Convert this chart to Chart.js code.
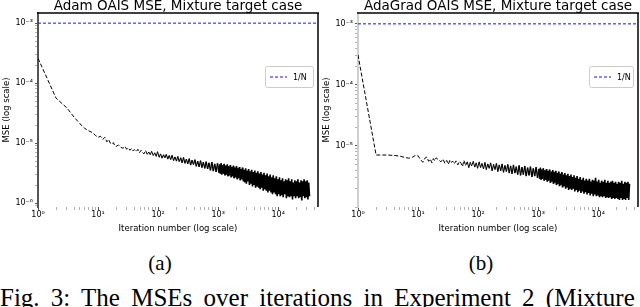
<!DOCTYPE html>
<html>
<head>
<meta charset="utf-8">
<script src="https://cdn.jsdelivr.net/npm/chart.js@4/dist/chart.umd.min.js"></script>
<style>
  html, body { margin: 0; padding: 0; background: #fff; }
  body { width: 640px; height: 307px; overflow: hidden; position: relative; }
  canvas { position: absolute; top: 0; }
  .sub { position: absolute; top: 252px; font-family: "Liberation Serif", "DejaVu Serif", serif; font-size: 21px; line-height: 22px; color: #000; width: 60px; text-align: center; }
  .cap { position: absolute; left: 0px; top: 285px; font-family: "Liberation Serif", "DejaVu Serif", serif; font-size: 25px; line-height: 25px; color: #000; white-space: nowrap; word-spacing: 5px; }
</style>
</head>
<body>
<canvas id="cA" width="320" height="240" style="left:0"></canvas>
<canvas id="cB" width="320" height="240" style="left:320px"></canvas>
<div class="sub" style="left:130px">(a)</div>
<div class="sub" style="left:451px">(b)</div>
<div class="cap">Fig. 3: The MSEs over iterations in Experiment 2 (Mixture target case).</div>
<script>
// ---------------- data ----------------
const iterations = [
  1,2,3,4,5,6,7,8,9,10,
  11,12,13,14,15,16,17,18,19,20,
  22,24,26,28,30,32,34,36,38,40,
  43,46,49,52,55,58,62,66,70,74,
  78,83,88,93,98,104,110,116,123,130,
  137,145,153,162,171,181,191,202,213,225,
  238,251,265,280,296,312,330,348,367,388,
  410,432,456,482,509,537,567,599,632,667,
  705,744,786,830,876,925,977,1030,1060,1090,
  1120,1150,1180,1220,1260,1300,1340,1380,1420,1460,
  1500,1550,1600,1650,1700,1750,1800,1850,1900,1960,
  2020,2080,2140,2200,2270,2340,2410,2480,2550,2630,
  2710,2790,2870,2950,3040,3130,3220,3320,3420,3520,
  3620,3730,3840,3960,4080,4200,4320,4450,4580,4720,
  4860,5010,5160,5310,5470,5630,5800,5980,6160,6340,
  6530,6730,6930,7140,7350,7570,7800,8030,8270,8520,
  8780,9040,9310,9590,9880,10200,10500,10800,11100,11400,
  11800,12100,12500,12900,13300,13700,14100,14500,14900,15400,
  15800,16300,16800,17300,17800,18400,18900,19500,20100,20700,
  21300,21900,22600,23300,24000,24700,25400,26200,27000,27800,
  28600,29500,30400,31300,32200,33200
];

const adamMse = [
  2.6e-4,5.6e-5,3.9e-5,2.7e-5,2.1e-5,1.76e-5,1.6e-5,1.5e-5,1.35e-5,1.25e-5,
  1.3e-5,1.15e-5,1.25e-5,1.05e-5,1.15e-5,1.0e-5,9.6e-6,1.02e-5,9.0e-6,8.8e-6,
  9.3e-6,8.5e-6,8.2e-6,8.8e-6,7.9e-6,8.3e-6,7.6e-6,8.1e-6,7.4e-6,7.8e-6,
  7.2e-6,7.9e-6,6.9e-6,7.6e-6,7.0e-6,6.6e-6,7.5e-6,6.5e-6,7.1e-6,6.4e-6,
  7.3e-6,6.2e-6,6.9e-6,6.0e-6,7.2e-6,5.8e-6,6.6e-6,5.6e-6,6.4e-6,5.7e-6,
  6.5e-6,5.4e-6,6.2e-6,5.3e-6,6.3e-6,5.1e-6,5.9e-6,5.0e-6,6.0e-6,4.9e-6,
  5.7e-6,4.7e-6,5.8e-6,4.6e-6,5.4e-6,4.5e-6,5.5e-6,4.3e-6,5.2e-6,4.4e-6,
  5.3e-6,4.1e-6,5.0e-6,4.0e-6,5.1e-6,3.9e-6,4.8e-6,3.8e-6,4.9e-6,3.7e-6,
  4.7e-6,3.5e-6,4.8e-6,3.4e-6,4.5e-6,3.3e-6,4.6e-6,3.2e-6,4.4e-6,3.1e-6,
  4.6e-6,3.0e-6,4.3e-6,3.1e-6,4.5e-6,2.9e-6,4.2e-6,3.0e-6,4.4e-6,2.8e-6,
  4.1e-6,2.9e-6,4.3e-6,2.7e-6,4.0e-6,2.8e-6,4.2e-6,2.6e-6,3.9e-6,2.7e-6,
  4.1e-6,2.5e-6,3.8e-6,2.6e-6,4.0e-6,2.4e-6,3.7e-6,2.5e-6,3.9e-6,2.3e-6,
  3.6e-6,2.2e-6,3.8e-6,2.1e-6,3.5e-6,2.3e-6,3.7e-6,2.0e-6,3.4e-6,2.1e-6,
  3.6e-6,1.9e-6,3.3e-6,2.0e-6,3.5e-6,1.8e-6,3.2e-6,1.9e-6,3.4e-6,1.8e-6,
  3.1e-6,1.7e-6,3.3e-6,1.8e-6,3.0e-6,1.6e-6,3.2e-6,1.7e-6,2.9e-6,1.6e-6,
  3.1e-6,1.5e-6,2.8e-6,1.6e-6,3.0e-6,1.5e-6,2.7e-6,1.4e-6,2.9e-6,1.5e-6,
  2.6e-6,1.4e-6,2.8e-6,1.3e-6,2.5e-6,1.4e-6,2.7e-6,1.3e-6,2.4e-6,1.35e-6,
  2.6e-6,1.25e-6,2.3e-6,1.4e-6,2.5e-6,1.2e-6,2.4e-6,1.3e-6,2.6e-6,1.25e-6,
  2.3e-6,1.3e-6,2.5e-6,1.15e-6,2.2e-6,1.3e-6,2.4e-6,1.2e-6,2.3e-6,1.3e-6,
  2.5e-6,1.2e-6,2.2e-6,1.25e-6,2.4e-6,1.1e-6,2.3e-6,1.3e-6,2.5e-6,1.2e-6,
  2.3e-6,1.25e-6,2.4e-6,1.15e-6,2.2e-6,1.3e-6
];

const adagradMse = [
  3.1e-4,7.1e-6,7.1e-6,7.0e-6,6.8e-6,6.5e-6,6.3e-6,6.5e-6,7.0e-6,6.9e-6,
  6.0e-6,5.4e-6,6.3e-6,6.6e-6,5.6e-6,6.1e-6,5.3e-6,6.2e-6,5.7e-6,6.4e-6,
  5.9e-6,5.5e-6,6.1e-6,5.2e-6,5.8e-6,5.0e-6,5.9e-6,5.4e-6,5.6e-6,5.1e-6,
  5.7e-6,4.9e-6,5.6e-6,5.2e-6,4.6e-6,5.8e-6,4.8e-6,5.5e-6,4.4e-6,5.4e-6,
  4.7e-6,5.6e-6,4.5e-6,5.3e-6,4.3e-6,5.5e-6,4.4e-6,5.2e-6,4.2e-6,5.4e-6,
  4.1e-6,5.1e-6,4.3e-6,5.3e-6,3.9e-6,5.0e-6,4.1e-6,5.2e-6,3.8e-6,4.9e-6,
  3.9e-6,5.1e-6,3.7e-6,4.8e-6,3.8e-6,5.0e-6,3.6e-6,4.7e-6,3.5e-6,4.9e-6,
  3.6e-6,4.6e-6,3.4e-6,4.8e-6,3.3e-6,4.5e-6,3.4e-6,4.7e-6,3.2e-6,4.4e-6,
  3.3e-6,4.6e-6,3.1e-6,4.3e-6,3.2e-6,4.5e-6,3.0e-6,4.2e-6,2.9e-6,4.4e-6,
  2.8e-6,4.1e-6,2.9e-6,4.3e-6,2.7e-6,4.0e-6,2.8e-6,4.2e-6,2.6e-6,3.9e-6,
  2.7e-6,4.1e-6,2.5e-6,3.8e-6,2.6e-6,4.0e-6,2.4e-6,3.7e-6,2.5e-6,3.9e-6,
  2.3e-6,3.6e-6,2.4e-6,3.8e-6,2.2e-6,3.5e-6,2.3e-6,3.7e-6,2.1e-6,3.4e-6,
  2.2e-6,3.6e-6,2.0e-6,3.3e-6,2.1e-6,3.5e-6,1.9e-6,3.2e-6,2.0e-6,3.4e-6,
  1.9e-6,3.1e-6,2.0e-6,3.3e-6,1.8e-6,3.0e-6,1.9e-6,3.2e-6,1.75e-6,2.9e-6,
  1.85e-6,3.1e-6,1.7e-6,2.8e-6,1.8e-6,3.0e-6,1.65e-6,2.7e-6,1.75e-6,2.9e-6,
  1.6e-6,2.7e-6,1.7e-6,2.9e-6,1.55e-6,2.6e-6,1.65e-6,2.8e-6,1.5e-6,2.7e-6,
  1.6e-6,3.0e-6,1.5e-6,2.6e-6,1.55e-6,2.8e-6,1.45e-6,2.5e-6,1.5e-6,2.7e-6,
  1.45e-6,2.6e-6,1.5e-6,2.8e-6,1.4e-6,2.5e-6,1.45e-6,2.7e-6,1.4e-6,2.5e-6,
  1.45e-6,2.6e-6,1.35e-6,2.7e-6,1.4e-6,2.5e-6,1.35e-6,2.6e-6,1.4e-6,2.4e-6,
  1.35e-6,2.6e-6,1.3e-6,2.5e-6,1.4e-6,2.7e-6,1.3e-6,2.4e-6,1.35e-6,2.6e-6,
  1.3e-6,2.5e-6,1.4e-6,2.6e-6,1.3e-6,2.4e-6
];

const oneOverN = 1e-3;            // 1/N reference level (N = 1000)
const xRange = [1, 46000];
const yRangeA = [0.86e-6, 1.47e-3];
const yRangeB = [1.0e-6, 1.5e-3];

const xDecades = [1, 10, 100, 1000, 10000];
const xTickLabels = ['10⁰', '10¹', '10²', '10³', '10⁴'];
const yDecadesA = [1e-6, 1e-5, 1e-4, 1e-3];
const yTickLabelsA = ['10⁻⁶', '10⁻⁵', '10⁻⁴', '10⁻³'];
const yDecadesB = [1e-5, 1e-4, 1e-3];
const yTickLabelsB = ['10⁻⁵', '10⁻⁴', '10⁻³'];
const minorMultiples = [2, 3, 4, 5, 6, 7, 8, 9];

const titles = ['Adam OAIS MSE, Mixture target case', 'AdaGrad OAIS MSE, Mixture target case'];
const xTitle = 'Iteration number (log scale)';
const yTitle = 'MSE (log scale)';

// ---------------- helpers ----------------
const FONT = 'DejaVu Sans';

function tickList(decades, lo, hi) {
  const out = [];
  const all = [decades[0] / 10, ...decades];
  for (const d of all) {
    if (d >= lo && d <= hi) out.push({ value: d });
    for (const k of minorMultiples) {
      const v = d * k;
      if (v >= lo && v <= hi) out.push({ value: v });
    }
  }
  return out;
}
function isMajor(v, majors) {
  return majors.some(m => Math.abs(v / m - 1) < 1e-9);
}
function labelFor(v, majors, labels) {
  const i = majors.findIndex(m => Math.abs(v / m - 1) < 1e-9);
  return i >= 0 ? labels[i] : '';
}

const framePlugin = {
  id: 'frame',
  afterDatasetsDraw(chart, args, opts) {
    const { ctx, chartArea: a } = chart;
    ctx.save();
    ctx.strokeStyle = opts.topColor;
    ctx.lineWidth = opts.topWidth;
    ctx.beginPath();
    ctx.moveTo(a.left - 1, a.top);
    ctx.lineTo(a.right + 1, a.top);
    ctx.stroke();
    ctx.strokeStyle = opts.rightColor;
    ctx.lineWidth = opts.rightWidth;
    ctx.beginPath();
    ctx.moveTo(a.right, a.top);
    ctx.lineTo(a.right, a.bottom);
    ctx.stroke();
    ctx.restore();
  }
};

const boxLegendPlugin = {
  id: 'boxLegend',
  afterDraw(chart, args, opts) {
    const { ctx, chartArea: a } = chart;
    const ds = chart.data.datasets[opts.datasetIndex];
    const w = opts.width, h = opts.height;
    const x = a.right - opts.offsetRight - w, y = opts.top;
    ctx.save();
    ctx.fillStyle = 'rgba(255,255,255,0.9)';
    ctx.strokeStyle = '#cccccc';
    ctx.lineWidth = 1;
    ctx.beginPath();
    ctx.roundRect(x + 0.5, y + 0.5, w, h, 2);
    ctx.fill();
    ctx.stroke();
    ctx.strokeStyle = ds.borderColor;
    ctx.lineWidth = ds.borderWidth;
    ctx.setLineDash(ds.borderDash || []);
    ctx.beginPath();
    ctx.moveTo(x + 5, y + h / 2 + 0.5);
    ctx.lineTo(x + 22, y + h / 2 + 0.5);
    ctx.stroke();
    ctx.setLineDash([]);
    ctx.fillStyle = '#000';
    ctx.font = '8px "' + FONT + '"';
    ctx.textBaseline = 'middle';
    ctx.fillText(ds.label, x + 28, y + h / 2 + 1);
    ctx.restore();
  }
};

// segments in the noisy tail (dense iterations) render solid and gradually heavier
const mseSegment = {
  borderDash: c => (c.p0.parsed.x >= 60 ? [] : [4, 2]),
  borderWidth: c => {
    const e = Math.log10(c.p0.parsed.x);
    return 1 + 0.6 * Math.min(1, Math.max(0, (e - 2) / 1.4));
  }
};

function makeChart(canvasId, title, mse, yRange, yDecades, yLabels, leftSpineColor, legendW) {
  const points = iterations.map((it, i) => ({ x: it, y: mse[i] }));
  const nLine = [{ x: xRange[0], y: oneOverN }, { x: xRange[1], y: oneOverN }];
  return new Chart(document.getElementById(canvasId), {
    type: 'line',
    data: {
      datasets: [
        { label: 'MSE', data: points, borderColor: '#000', borderWidth: 1, borderDash: [4, 2],
          segment: mseSegment, pointRadius: 0, tension: 0, fill: false },
        { label: '1/N', data: nLine, borderColor: '#1010ff', borderWidth: 1, borderDash: [3, 2],
          pointRadius: 0, tension: 0, fill: false }
      ]
    },
    options: {
      responsive: false,
      devicePixelRatio: 1,
      animation: false,
      layout: { padding: { left: 0, right: 2, top: 0, bottom: 0 } },
      plugins: {
        legend: { display: false },
        tooltip: { enabled: false },
        title: {
          display: true, text: title, fullSize: false, color: '#000',
          font: { family: FONT, size: 13.5, weight: 'normal', lineHeight: 0.97 },
          padding: { top: 0, bottom: 0 }
        },
        frame: { topColor: '#000', topWidth: 1.5, rightColor: '#000', rightWidth: 1.5 },
        boxLegend: { datasetIndex: 1, width: legendW, height: 21, top: 66, offsetRight: 5 }
      },
      scales: {
        x: {
          type: 'logarithmic', min: xRange[0], max: xRange[1],
          afterFit: s => { s.height = 33; },
          afterBuildTicks: s => { s.ticks = tickList(xDecades, xRange[0], xRange[1]); },
          ticks: {
            autoSkip: false, maxRotation: 0, padding: 0, color: '#000',
            font: { family: FONT, size: 8 },
            callback: v => labelFor(v, xDecades, xTickLabels)
          },
          grid: {
            drawOnChartArea: false, drawTicks: true, tickLength: 3,
            color: c => (c.tick && isMajor(c.tick.value, xDecades)) ? '#555' : '#b0b0b0'
          },
          border: { display: false },
          title: { display: true, text: xTitle, color: '#000', font: { family: FONT, size: 8.5 }, padding: { top: 0, bottom: 6 } }
        },
        y: {
          type: 'logarithmic', min: yRange[0], max: yRange[1],
          afterFit: s => { s.width = 38; },
          afterBuildTicks: s => { s.ticks = tickList(yDecades, yRange[0], yRange[1]); },
          ticks: {
            autoSkip: false, padding: 2, color: '#000',
            font: { family: FONT, size: 8 },
            callback: v => labelFor(v, yDecades, yLabels)
          },
          grid: {
            drawOnChartArea: false, drawTicks: true, tickLength: 3,
            color: c => (c.tick && isMajor(c.tick.value, yDecades)) ? '#555' : '#b0b0b0'
          },
          border: { display: true, color: leftSpineColor, width: 2 },
          title: { display: true, text: yTitle, color: '#000', font: { family: FONT, size: 8.5 }, padding: { top: 2, bottom: 0 } }
        }
      }
    },
    plugins: [framePlugin, boxLegendPlugin]
  });
}

makeChart('cA', titles[0], adamMse, yRangeA, yDecadesA, yTickLabelsA, '#555555', 48);
makeChart('cB', titles[1], adagradMse, yRangeB, yDecadesB, yTickLabelsB, '#cfcfcf', 44);
</script>
</body>
</html>
